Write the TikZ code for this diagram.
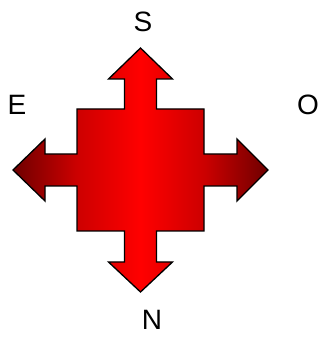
\documentclass[tikz,border=0pt]{standalone}
\usepackage{fontspec}
\setmainfont{Liberation Sans}
\usepackage{xcolor}
\usepackage{tikz}
\definecolor{dunkelrot}{RGB}{110,0,0}
\pgfdeclarehorizontalshading{pfeilverlauf}{100bp}{color(0bp)=(dunkelrot); color(25bp)=(dunkelrot);
	color(37.5bp)=(red!65!dunkelrot); color(50bp)=(red); color(62.5bp)=(red!65!dunkelrot);
	color(75bp)=(dunkelrot); color(100bp)=(dunkelrot)}

\begin{document}
\begin{tikzpicture}[x=1pt,y=1pt,
		richtung/.style={font=\fontsize{28}{34}\selectfont}]
				\useasboundingbox (0,0) rectangle (320,339);
				% Kreuz mit Pfeilen
				\draw[line width=1.3pt, shading=pfeilverlauf, shading angle=0]
					(77,230) -- (124.5,230) -- (124.5,260) -- (108.5,260) -- (140.5,291)
					-- (172.5,260) -- (156.5,260) -- (156.5,230) -- (204,230)
					-- (204,185) -- (237,185) -- (237,200) -- (268,169) -- (237,138) -- (237,153)
					-- (204,153) -- (204,108) -- (156.5,108) -- (156.5,77) -- (172.5,77)
					-- (140.5,47) -- (108.5,77) -- (124.5,77) -- (124.5,108) -- (77,108)
					-- (77,153) -- (45,153) -- (45,138) -- (13,169) -- (45,200) -- (45,185)
					-- (77,185) -- cycle;
				% Himmelsrichtungen
				\node[richtung] (sued) at (143,317) {S};
				\node[richtung] (nord) at (152,19) {N};
				\node[richtung] (ost) at (17,234.5) {E};
				\node[richtung] (west) at (308,234.5) {O};
			\end{tikzpicture}
\end{document}
